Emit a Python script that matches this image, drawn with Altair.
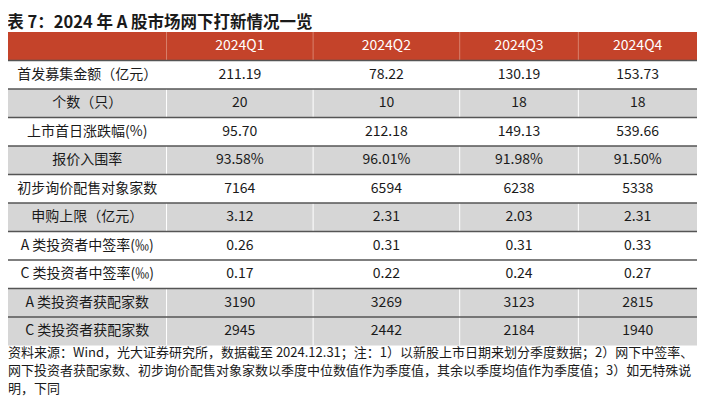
import altair as alt
import pandas as pd

FONT = "Noto Sans CJK SC"

# ---- data ----
title_text = "表 7：2024 年 A 股市场网下打新情况一览"
quarters = ["2024Q1", "2024Q2", "2024Q3", "2024Q4"]
metrics = [
    "首发募集金额（亿元）",
    "个数（只）",
    "上市首日涨跌幅(%)",
    "报价入围率",
    "初步询价配售对象家数",
    "申购上限（亿元）",
    "A 类投资者中签率(‰)",
    "C 类投资者中签率(‰)",
    "A 类投资者获配家数",
    "C 类投资者获配家数",
]
q1 = [211.19, 20, 95.70, 93.58, 7164, 3.12, 0.26, 0.17, 3190, 2945]
q2 = [78.22, 10, 212.18, 96.01, 6594, 2.31, 0.31, 0.22, 3269, 2442]
q3 = [130.19, 18, 149.13, 91.98, 6238, 2.03, 0.31, 0.24, 3123, 2184]
q4 = [153.73, 18, 539.66, 91.50, 5338, 2.31, 0.33, 0.27, 2815, 1940]
row_formats = ["{:.2f}", "{:.0f}", "{:.2f}", "{:.2f}%", "{:.0f}",
               "{:.2f}", "{:.2f}", "{:.2f}", "{:.0f}", "{:.0f}"]
shaded = [False, True, False, True, False, True, False, False, True, True]
footnote_lines = [
    "资料来源：Wind，光大证券研究所，数据截至 2024.12.31；注：1）以新股上市日期来划分季度数据；2）网下中签率、",
    "网下投资者获配家数、初步询价配售对象家数以季度中位数值作为季度值，其余以季度均值作为季度值；3）如无特殊说",
    "明，下同",
]

# ---- layout (not data) ----
col_widths = [159, 147, 147, 119, 119]
edges = [0]
for w in col_widths:
    edges.append(edges[-1] + w)
total_w = edges[-1]
n_rows = len(metrics) + 1
ROW_H = 28.5

HEADER_FILL = "#C4432A"
SHADE_FILL = "#D6D6D6"
TEXT_COLOR = "#1a1a1a"

series = [q1, q2, q3, q4]

rows = [{"y0": 0, "y1": 1, "fill": HEADER_FILL}]
for i, s in enumerate(shaded):
    rows.append({"y0": i + 1, "y1": i + 2, "fill": SHADE_FILL if s else "#FFFFFF"})
rows_df = pd.DataFrame(rows)
rows_df["x0"] = 0
rows_df["x1"] = total_w

cells = []
for c, q in enumerate(quarters):
    cells.append({"xc": (edges[c + 1] + edges[c + 2]) / 2, "yc": 0.5, "text": q, "color": "#FFFFFF"})
for r, m in enumerate(metrics):
    cells.append({"xc": (edges[0] + edges[1]) / 2, "yc": r + 1.5, "text": m, "color": TEXT_COLOR})
    for c, s in enumerate(series):
        cells.append({"xc": (edges[c + 1] + edges[c + 2]) / 2, "yc": r + 1.5,
                      "text": row_formats[r].format(s[r]), "color": TEXT_COLOR})
cells_df = pd.DataFrame(cells)

vlines = []
for e in edges[1:-1]:
    vlines.append({"x": e, "y0": 0, "y1": 1, "color": "#D8806C"})
    vlines.append({"x": e, "y0": 1, "y1": n_rows, "color": "#FFFFFF"})
vlines_df = pd.DataFrame(vlines)

hlines_df = pd.DataFrame({"y": list(range(1, n_rows)), "x0": 0, "x1": total_w})

foot_df = pd.DataFrame({"x": [0], "y": [n_rows], "text": ["\n".join(footnote_lines)]})

xs = alt.Scale(domain=[0, total_w], range=[0, 689], nice=False, zero=False)
ys = alt.Scale(domain=[0, n_rows], range=[0, n_rows * ROW_H], nice=False, zero=False)

bg = alt.Chart(rows_df).mark_rect(strokeWidth=0).encode(
    x=alt.X("x0:Q", scale=xs, axis=None), x2="x1:Q",
    y=alt.Y("y0:Q", scale=ys, axis=None), y2="y1:Q",
    color=alt.Color("fill:N", scale=None),
)

vrules = alt.Chart(vlines_df).mark_rule(strokeWidth=1).encode(
    x=alt.X("x:Q", scale=xs, axis=None),
    y=alt.Y("y0:Q", scale=ys, axis=None), y2="y1:Q",
    color=alt.Color("color:N", scale=None),
)

hrules = alt.Chart(hlines_df).mark_rule(strokeWidth=1.3, color="#555555").encode(
    x=alt.X("x0:Q", scale=xs, axis=None), x2="x1:Q",
    y=alt.Y("y:Q", scale=ys, axis=None),
)

texts = alt.Chart(cells_df).mark_text(font=FONT, fontSize=14, align="center", baseline="middle").encode(
    x=alt.X("xc:Q", scale=xs, axis=None),
    y=alt.Y("yc:Q", scale=ys, axis=None),
    text="text:N",
    color=alt.Color("color:N", scale=None),
)

foot = alt.Chart(foot_df).mark_text(font=FONT, fontSize=13, align="left", baseline="top",
                                     lineBreak="\n", lineHeight=18.2, dy=1, color=TEXT_COLOR).encode(
    x=alt.X("x:Q", scale=xs, axis=None),
    y=alt.Y("y:Q", scale=ys, axis=None),
    text="text:N",
)

chart = alt.layer(bg, vrules, hrules, texts, foot).properties(
    width=689,
    height=367,
    title=alt.TitleParams(title_text, anchor="start", fontSize=16.5, fontWeight="bold",
                          font=FONT, color=TEXT_COLOR, offset=0),
    autosize=alt.AutoSizeParams(type="none"),
    padding={"left": 0, "top": 24, "right": 0, "bottom": 0},
).configure_view(stroke=None)

chart.save("out.html", embed_options={"renderer": "svg", "actions": False})
